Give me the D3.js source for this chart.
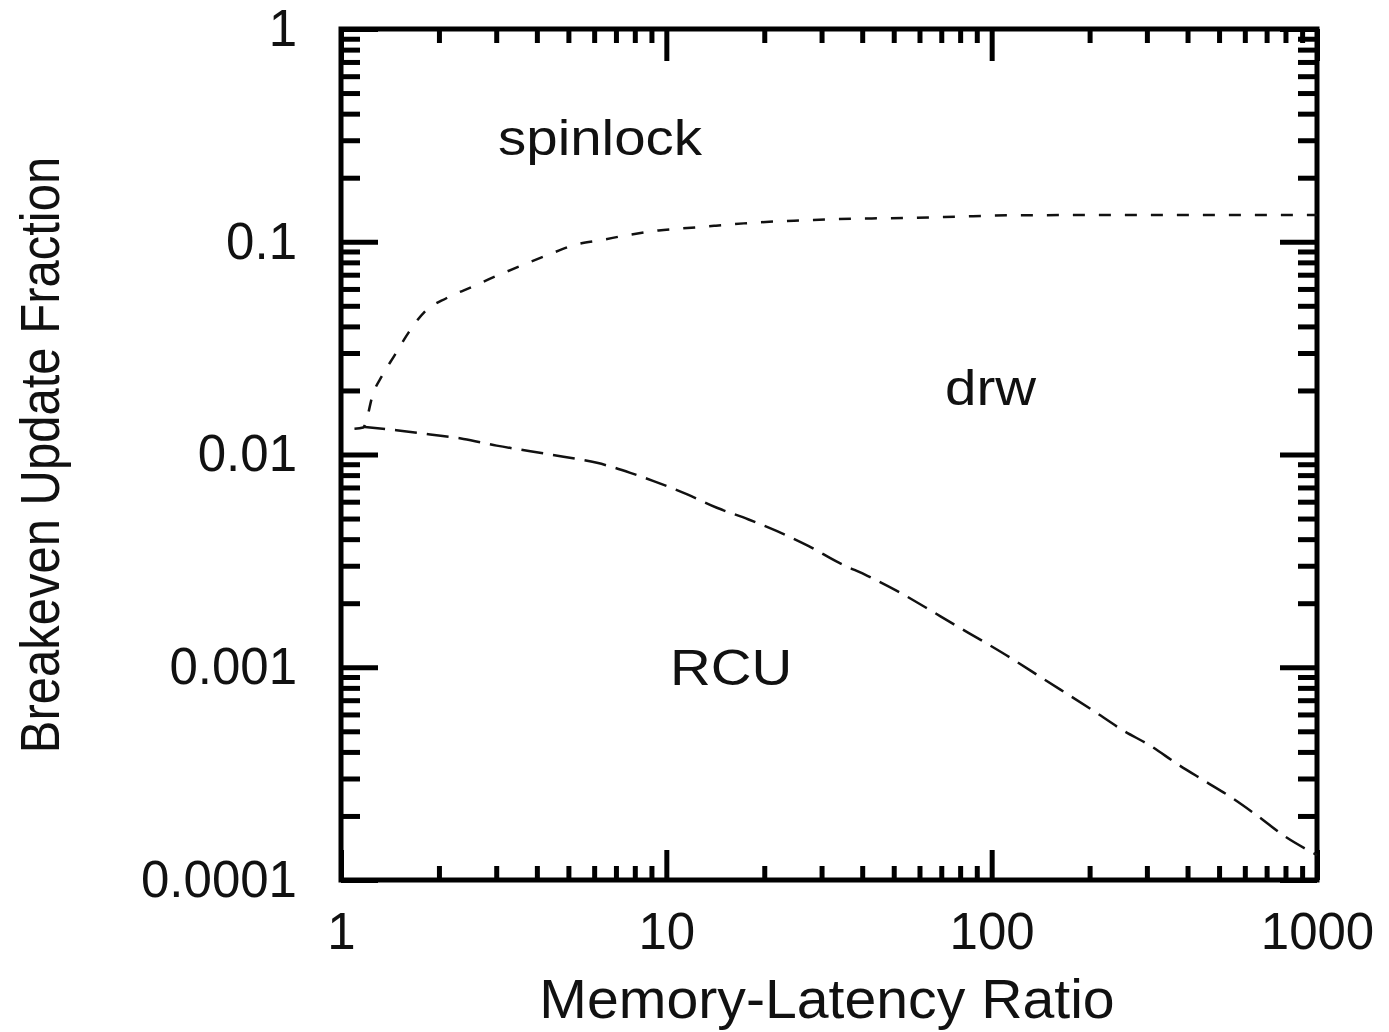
<!DOCTYPE html>
<html>
<head>
<meta charset="utf-8">
<script src="https://cdn.jsdelivr.net/npm/d3@7"></script>
<style>
  body { margin: 0; background: #fff; }
  text { font-family: "Liberation Sans", Arial, sans-serif; fill: #111; }
</style>
</head>
<body>
<div id="graph"></div>
<script>
// tick labels
var xMajor = [1, 10, 100, 1000];
var xLabels = ["1", "10", "100", "1000"];
var yMajor = [0.0001, 0.001, 0.01, 0.1, 1];
var yLabels = ["0.0001", "0.001", "0.01", "0.1", "1"];

// spinlock / drw boundary (upper dashed curve)
var ratioUpper = [1.10, 1.17, 1.26, 1.334, 1.466, 1.611, 1.813, 2.114, 2.55, 2.98, 3.64, 4.34, 5.25, 6.34, 7.74, 9.47, 11.6, 14.2, 17.3, 21.4, 26.1, 33.6, 47.9, 71.6, 119, 300, 1000];
var spinlockDrw = [0.0132, 0.0134, 0.0197, 0.0233, 0.0295, 0.0373, 0.0471, 0.0544, 0.0617, 0.0687, 0.078, 0.0869, 0.0968, 0.102, 0.108, 0.113, 0.116, 0.119, 0.122, 0.1245, 0.126, 0.128, 0.129, 0.1306, 0.1333, 0.1335, 0.1335];

// drw / RCU boundary (lower dashed curve)
var ratioLower = [1.17, 1.48, 1.88, 2.38, 3.01, 3.82, 4.83, 6.12, 7.75, 9.14, 11.6, 14.3, 17.9, 21.9, 27.4, 33.9, 41.5, 51.3, 62.7, 76.6, 93.6, 114, 142, 202, 255, 308, 372, 450, 544, 657, 793, 947, 1000];
var rcuDrw = [0.0135, 0.0130, 0.01241, 0.01184, 0.01101, 0.01036, 0.00976, 0.00914, 0.0082, 0.0075, 0.00649, 0.00562, 0.00495, 0.00436, 0.00371, 0.0031, 0.00269, 0.00228, 0.00191, 0.00159, 0.00133, 0.00111, 0.000895, 0.000635, 0.000502, 0.000427, 0.000351, 0.000293, 0.000245, 0.0002, 0.000161, 0.000137, 0.000131];

// region names
var regionNames = ["spinlock", "drw", "RCU"];

var W = 1389, H = 1032;
var pLeft = 341, pRight = 1317, pTop = 29, pBottom = 880;

var svg = d3.select("#graph").append("svg")
  .attr("width", W)
  .attr("height", H);

var x = d3.scaleLog().domain([1, 1000]).range([pLeft, pRight]);
var y = d3.scaleLog().domain([0.0001, 1]).range([pBottom, pTop]);

var xMinor = x.ticks().filter(function(d) { return xMajor.indexOf(d) < 0; });
var yMinor = y.ticks().filter(function(d) { return yMajor.every(function(m) { return Math.abs(m - d) / m > 1e-6; }); });

function styleAxis(g) {
  g.select(".domain").remove();
  g.selectAll(".tick line").attr("stroke", "#000").attr("stroke-width", 5);
}

function styleLabels(sel) {
  sel.attr("font-size", 51).attr("fill", "#111")
    .style("font-family", '"Liberation Sans", Arial, sans-serif');
}

// bottom
svg.append("g").attr("transform", "translate(0," + pBottom + ")")
  .call(d3.axisBottom(x).tickValues(xMinor).tickSize(-14).tickFormat(""))
  .call(styleAxis);
svg.append("g").attr("transform", "translate(0," + pBottom + ")")
  .call(d3.axisBottom(x).tickValues(xMajor).tickSize(-30).tickPadding(33)
    .tickFormat(function(d, i) { return xLabels[i]; }))
  .call(styleAxis)
  .selectAll("text").call(styleLabels);

// top
svg.append("g").attr("transform", "translate(0," + pTop + ")")
  .call(d3.axisTop(x).tickValues(xMinor).tickSize(-14).tickFormat(""))
  .call(styleAxis);
svg.append("g").attr("transform", "translate(0," + pTop + ")")
  .call(d3.axisTop(x).tickValues(xMajor).tickSize(-32).tickFormat(""))
  .call(styleAxis);

// left
svg.append("g").attr("transform", "translate(" + pLeft + ",0)")
  .call(d3.axisLeft(y).tickValues(yMinor).tickSize(-19).tickFormat(""))
  .call(styleAxis);
svg.append("g").attr("transform", "translate(" + pLeft + ",0)")
  .call(d3.axisLeft(y).tickValues(yMajor).tickSize(-37).tickPadding(44)
    .tickFormat(function(d, i) { return yLabels[i]; }))
  .call(styleAxis)
  .selectAll("text").call(styleLabels);

// right
svg.append("g").attr("transform", "translate(" + pRight + ",0)")
  .call(d3.axisRight(y).tickValues(yMinor).tickSize(-19).tickFormat(""))
  .call(styleAxis);
svg.append("g").attr("transform", "translate(" + pRight + ",0)")
  .call(d3.axisRight(y).tickValues(yMajor).tickSize(-37).tickFormat(""))
  .call(styleAxis);

// frame
svg.append("rect")
  .attr("x", pLeft).attr("y", pTop)
  .attr("width", pRight - pLeft).attr("height", pBottom - pTop)
  .attr("fill", "none").attr("stroke", "#000").attr("stroke-width", 5);

// curves
var line = d3.line()
  .x(function(d) { return x(d[0]); })
  .y(function(d) { return y(d[1]); })
  .curve(d3.curveMonotoneX);

svg.append("path")
  .datum(d3.zip(ratioUpper, spinlockDrw))
  .attr("d", line)
  .attr("fill", "none").attr("stroke", "#111")
  .attr("stroke-width", 2.5).attr("stroke-dasharray", "12,14");

svg.append("path")
  .datum(d3.zip(ratioLower, rcuDrw))
  .attr("d", line)
  .attr("fill", "none").attr("stroke", "#111")
  .attr("stroke-width", 2.5).attr("stroke-dasharray", "22,10");

// region labels
var regionPos = [[498, 155], [945, 405], [670, 685]];
svg.selectAll(".region")
  .data(regionNames)
  .enter().append("text")
  .attr("class", "region")
  .attr("transform", function(d, i) {
    return "translate(" + regionPos[i][0] + "," + regionPos[i][1] + ") scale(1.13,1)";
  })
  .attr("font-size", 50)
  .text(function(d) { return d; });

// axis titles
svg.append("text")
  .attr("transform", "translate(827,1018) scale(1.04,1)")
  .attr("text-anchor", "middle")
  .attr("font-size", 55)
  .text("Memory-Latency Ratio");

svg.append("text")
  .attr("transform", "translate(59,455) scale(1.12,1) rotate(-90)")
  .attr("text-anchor", "middle")
  .attr("font-size", 49)
  .text("Breakeven Update Fraction");
</script>
</body>
</html>
